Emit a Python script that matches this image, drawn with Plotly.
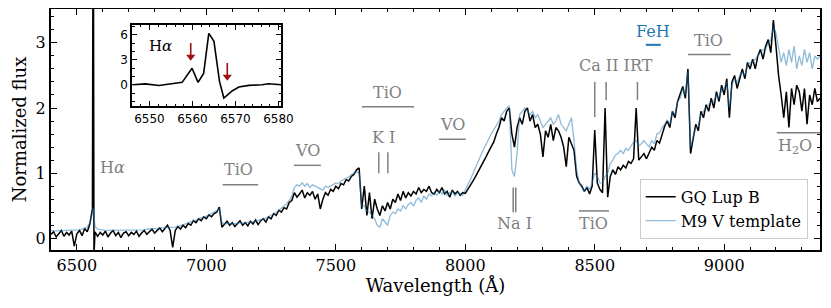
import plotly.graph_objects as go

# ---------------- data ----------------
wave = [
    6400, 6410, 6420, 6430, 6440, 6450, 6460, 6470, 6480, 6490,
    6500, 6510, 6520, 6530, 6540, 6550, 6560, 6563, 6566, 6570, 6580, 6590,
    6600, 6610, 6620, 6630, 6640, 6650, 6660, 6670, 6680, 6690,
    6700, 6710, 6720, 6730, 6740, 6750, 6760, 6770, 6780, 6790,
    6800, 6810, 6820, 6830, 6840, 6850, 6860, 6870, 6880, 6890,
    6900, 6910, 6920, 6930, 6940, 6950, 6960, 6970, 6980, 6990,
    7000, 7010, 7020, 7030, 7040, 7050, 7060, 7070, 7080, 7090,
    7100, 7110, 7120, 7130, 7140, 7150, 7160, 7170, 7180, 7190,
    7200, 7210, 7220, 7230, 7240, 7250, 7260, 7270, 7280, 7290,
    7300, 7310, 7320, 7330, 7340, 7350, 7360, 7370, 7380, 7390,
    7400, 7410, 7420, 7430, 7440, 7450, 7460, 7470, 7480, 7490,
    7500, 7510, 7520, 7530, 7540, 7550, 7560, 7570, 7580, 7590,
    7600, 7610, 7620, 7630, 7640, 7650, 7660, 7670, 7680, 7690,
    7700, 7710, 7720, 7730, 7740, 7750, 7760, 7770, 7780, 7790,
    7800, 7810, 7820, 7830, 7840, 7850, 7860, 7870, 7880, 7890,
    7900, 7910, 7920, 7930, 7940, 7950, 7960, 7970, 7980, 7990,
    8000, 8010, 8020, 8030, 8040, 8050, 8060, 8070, 8080, 8090,
    8100, 8110, 8120, 8130, 8140, 8150, 8160, 8170, 8180, 8190,
    8200, 8210, 8220, 8230, 8240, 8250, 8260, 8270, 8280, 8290,
    8300, 8310, 8320, 8330, 8340, 8350, 8360, 8370, 8380, 8390,
    8400, 8410, 8420, 8430, 8440, 8450, 8460, 8470, 8480, 8490,
    8500, 8510, 8520, 8530, 8540, 8550, 8560, 8570, 8580, 8590,
    8600, 8610, 8620, 8630, 8640, 8650, 8660, 8670, 8680, 8690,
    8700, 8710, 8720, 8730, 8740, 8750, 8760, 8770, 8780, 8790,
    8800, 8810, 8820, 8830, 8840, 8850, 8860, 8870, 8880, 8890,
    8900, 8910, 8920, 8930, 8940, 8950, 8960, 8970, 8980, 8990,
    9000, 9010, 9020, 9030, 9040, 9050, 9060, 9070, 9080, 9090,
    9100, 9110, 9120, 9130, 9140, 9150, 9160, 9170, 9180, 9190,
    9200, 9210, 9220, 9230, 9240, 9250, 9260, 9270, 9280, 9290,
    9300, 9310, 9320, 9330, 9340, 9350, 9360, 9370,
]

flux_gqlupb = [
    0.06, 0.10, 0.02, 0.08, 0.12, 0.03, 0.09, 0.05, 0.11, -0.12,
    0.07, 0.12, 0.04, 0.15, 0.10, 0.22, 0.45, 6.2, -0.25, 0.10, 0.03, 0.09,
    0.05, 0.11, 0.02, 0.08, 0.12, 0.04, 0.09, 0.01, 0.08, 0.10,
    0.04, 0.09, 0.06, 0.11, 0.03, 0.08, 0.12, 0.06, 0.10, 0.14,
    0.08, 0.12, 0.16, 0.10, 0.15, 0.20, 0.12, -0.14, 0.12, 0.18,
    0.14, 0.20, 0.16, 0.23, 0.20, 0.27, 0.24, 0.30, 0.27, 0.33,
    0.30, 0.36, 0.33, 0.38, 0.40, 0.48, 0.17, 0.22, 0.26, 0.20,
    0.24, 0.18, 0.22, 0.27, 0.20, 0.24, 0.19, 0.26, 0.22, 0.28,
    0.21, 0.27, 0.30, 0.25, 0.33, 0.30, 0.38, 0.35, 0.43, 0.40,
    0.47, 0.45, 0.55, 0.58, 0.70, 0.63, 0.68, 0.74, 0.62, 0.70,
    0.66, 0.72, 0.60, 0.68, 0.45, 0.60, 0.70, 0.66, 0.75, 0.72,
    0.80, 0.76, 0.84, 0.82, 0.90, 0.88, 0.95, 0.98, 1.05, 1.08,
    0.45, 0.80, 0.35, 0.70, 0.30, 0.60, 0.45, 0.35, 0.50, 0.42,
    0.55, 0.45, 0.60, 0.55, 0.68, 0.58, 0.72, 0.62, 0.70, 0.65,
    0.72, 0.68, 0.78, 0.70, 0.75, 0.72, 0.80, 0.70, 0.68, 0.75,
    0.70, 0.78, 0.68, 0.72, 0.63, 0.74, 0.68, 0.72, 0.66, 0.70,
    0.69, 0.75, 0.80, 0.88, 0.95, 1.02, 1.10, 1.18, 1.25, 1.33,
    1.40, 1.48, 1.60, 1.70, 1.85, 1.80, 1.95, 2.00, 1.60, 1.40,
    1.70, 1.85, 1.75, 1.95, 2.00, 1.80, 1.90, 1.70, 1.75, 1.60,
    1.25, 1.65, 1.55, 1.75, 1.50, 1.70, 1.65, 1.55, 1.40, 1.10,
    1.55, 1.45, 1.35, 0.95, 0.85, 0.80, 0.72, 0.78, 0.68, 0.80,
    1.66, 0.85, 0.75, 0.70, 2.00, 0.63, 0.95, 1.05, 0.98, 1.10,
    1.05, 1.12, 1.08, 1.18, 1.15, 1.22, 2.00, 1.20, 1.25, 1.30,
    1.22, 1.30, 1.40, 1.35, 1.50, 1.46, 1.60, 1.72, 1.80, 1.70,
    1.95, 1.85, 2.10, 2.20, 2.33, 2.15, 2.60, 1.30, 1.50, 1.75,
    1.65, 1.95, 1.85, 2.05, 1.95, 2.15, 2.00, 2.25, 2.10, 2.35,
    2.20, 2.45, 1.85, 2.40, 2.50, 2.30, 2.45, 2.60, 2.45, 2.70,
    2.60, 2.75, 2.60, 2.80, 2.90, 2.75, 2.95, 3.05, 2.85, 3.35,
    2.95, 2.50, 2.20, 1.85, 2.25, 1.70, 2.30, 2.05, 2.35, 2.25,
    1.95, 2.30, 1.75, 2.20, 2.05, 2.30, 2.10, 2.15,
]

flux_m9v = [
    0.12, 0.11, 0.11, 0.12, 0.11, 0.12, 0.12, 0.12, 0.12, 0.12,
    0.13, 0.13, 0.14, 0.15, 0.17, 0.24, 0.38, 0.47, 0.30, 0.18, 0.14, 0.13,
    0.12, 0.12, 0.12, 0.12, 0.12, 0.12, 0.12, 0.12, 0.12, 0.12,
    0.12, 0.12, 0.12, 0.12, 0.13, 0.13, 0.13, 0.14, 0.14, 0.15,
    0.15, 0.15, 0.16, 0.16, 0.16, 0.17, 0.17, 0.17, 0.17, 0.18,
    0.20, 0.21, 0.22, 0.24, 0.25, 0.27, 0.28, 0.30, 0.31, 0.33,
    0.34, 0.36, 0.38, 0.39, 0.42, 0.45, 0.24, 0.22, 0.23, 0.22,
    0.23, 0.22, 0.23, 0.24, 0.23, 0.24, 0.24, 0.25, 0.25, 0.26,
    0.27, 0.28, 0.30, 0.31, 0.33, 0.35, 0.38, 0.40, 0.43, 0.46,
    0.50, 0.53, 0.58, 0.65, 0.78, 0.82, 0.80, 0.85, 0.80, 0.84,
    0.78, 0.82, 0.80, 0.78, 0.76, 0.74, 0.80, 0.78, 0.80, 0.82,
    0.85, 0.84, 0.88, 0.90, 0.92, 0.94, 0.98, 1.00, 1.02, 1.00,
    0.50, 0.50, 0.42, 0.40, 0.35, 0.30, 0.20, 0.17, 0.30, 0.25,
    0.20, 0.35, 0.40, 0.38, 0.45, 0.42, 0.50, 0.45, 0.52, 0.55,
    0.50, 0.58, 0.62, 0.55, 0.65, 0.60, 0.68, 0.65, 0.70, 0.66,
    0.72, 0.68, 0.74, 0.66, 0.70, 0.72, 0.65, 0.70, 0.68, 0.66,
    0.75, 0.82, 0.90, 1.00, 1.10, 1.18, 1.27, 1.36, 1.45, 1.52,
    1.60, 1.66, 1.72, 1.80, 1.90, 1.95, 2.00, 2.03, 1.05, 0.95,
    1.30, 1.90, 1.95, 2.00, 1.95, 1.90, 1.95, 1.85, 1.90, 1.80,
    1.70, 1.75, 1.80, 1.85, 1.75, 1.80, 1.90, 1.75, 1.70, 1.65,
    1.75, 1.85, 1.50, 1.05, 0.85, 0.78, 0.72, 0.80, 0.75, 0.85,
    1.00, 0.95, 0.85, 0.85, 0.95, 1.00, 1.15, 1.20, 1.28, 1.30,
    1.35, 1.30, 1.38, 1.35, 1.42, 1.48, 1.50, 1.42, 1.45, 1.50,
    1.45, 1.40, 1.50, 1.45, 1.60, 1.62, 1.70, 1.75, 1.82, 1.75,
    1.95, 1.90, 2.10, 2.15, 2.30, 2.20, 2.55, 1.40, 1.55, 1.70,
    1.72, 1.90, 1.95, 2.00, 2.05, 2.10, 2.10, 2.20, 2.15, 2.30,
    2.30, 2.40, 2.00, 2.35, 2.45, 2.40, 2.50, 2.55, 2.50, 2.65,
    2.70, 2.70, 2.75, 2.80, 2.85, 2.90, 2.90, 3.00, 3.05, 3.25,
    3.15, 2.90, 2.70, 2.85, 2.65, 2.90, 2.70, 2.95, 2.60, 2.80,
    2.65, 2.90, 2.70, 2.85, 2.60, 2.80, 2.75, 2.80,
]

# H-alpha zoom (inset)
ha_wave = [6546.1, 6549.0, 6552.2, 6555.3, 6557.6, 6559.9, 6561.3, 6562.6,
           6563.8, 6565.0, 6566.3, 6567.3, 6569.3, 6570.8, 6573.1, 6576.2,
           6577.7, 6580.7]
ha_flux = [0.0, 0.1, -0.1, 0.12, 0.28, 1.97, 0.28, 1.36,
           6.16, 5.2, 0.36, -1.6, -0.72, -0.28, -0.08, 0.0,
           0.12, 0.0]
arrow_wave = [6559.6, 6568.1]
arrow_top = [5.0, 2.6]
arrow_tip = [2.8, 0.4]

# Feature bands: label, x-centre of label, label y, bar start, bar end, bar y
band_labels = ["TiO", "VO", "TiO", "VO", "TiO", "TiO"]
band_label_x = [7126, 7392, 7701, 7952, 8497, 8940]
band_label_y = [1.05, 1.35, 2.24, 1.74, 0.22, 3.03]
band_start = [7063, 7338, 7601, 7898, 8439, 8860]
band_end = [7200, 7442, 7802, 8002, 8555, 9025]
band_bar_y = [0.82, 1.12, 2.02, 1.52, 0.42, 2.82]

# Atomic lines (vertical ticks): x, y bottom, y top
kI_lines = [7666, 7701]
naI_lines = [8185, 8195]
caII_lines = [8500, 8544, 8665]
caII_bottom = [1.86, 2.12, 2.12]

GRAY = "#808080"
SERIF = "DejaVu Serif"
ARROW = "#9b1111"

fig = go.Figure()
fig.add_trace(go.Scatter(x=wave, y=flux_gqlupb, mode="lines", name="GQ Lup B",
                         line=dict(color="black", width=1.5)))
fig.add_trace(go.Scatter(x=wave, y=flux_m9v, mode="lines", name="M9 V template",
                         line=dict(color="rgba(31,119,180,0.5)", width=1.3)))
fig.add_trace(go.Scatter(x=ha_wave, y=ha_flux, mode="lines", showlegend=False,
                         line=dict(color="black", width=1.6), xaxis="x2", yaxis="y2"))
# inset arrows: shaft + head
for aw, at, ab in zip(arrow_wave, arrow_top, arrow_tip):
    fig.add_trace(go.Scatter(x=[aw, aw], y=[at, ab + 0.6], mode="lines",
                             showlegend=False, hoverinfo="skip",
                             line=dict(color=ARROW, width=1.6),
                             xaxis="x2", yaxis="y2"))
fig.add_trace(go.Scatter(x=arrow_wave, y=[t + 0.55 for t in arrow_tip], mode="markers",
                         showlegend=False, hoverinfo="skip",
                         marker=dict(symbol="triangle-down", size=8, color=ARROW,
                                     line=dict(width=0)),
                         xaxis="x2", yaxis="y2"))

shapes = []
annotations = []

def gray_text(x, y, text, color=GRAY):
    annotations.append(dict(x=x, y=y, xref="x", yref="y", text=text, showarrow=False,
                            font=dict(family=SERIF, size=16, color=color),
                            xanchor="center", yanchor="middle"))

def seg(x0, y0, x1, y1, color=GRAY, width=1.5):
    shapes.append(dict(type="line", xref="x", yref="y", x0=x0, y0=y0, x1=x1, y1=y1,
                       line=dict(color=color, width=width)))

for lab, lx, ly, b0, b1, by in zip(band_labels, band_label_x, band_label_y,
                                    band_start, band_end, band_bar_y):
    gray_text(lx, ly, lab)
    seg(b0, by, b1, by)

gray_text(6637, 1.09, "H<i>α</i>")
gray_text(7686, 1.55, "K I")
for xl in kI_lines:
    seg(xl, 1.0, xl, 1.32)
gray_text(8191, 0.22, "Na I")
for xl in naI_lines:
    seg(xl, 0.40, xl, 0.78)
gray_text(8581, 2.65, "Ca II IRT")
for xl, yb in zip(caII_lines, caII_bottom):
    seg(xl, yb, xl, 2.40)
gray_text(8724, 3.18, "FeH", color="#1f77b4")
seg(8697, 2.97, 8755, 2.97, color="#1f77b4", width=2)
gray_text(9272, 1.41, "H<sub>2</sub>O")
seg(9203, 1.62, 9370, 1.62)

# inset label
annotations.append(dict(x=6549.5, y=4.6, xref="x2", yref="y2", text="H<i>α</i>",
                        showarrow=False, xanchor="left", yanchor="middle",
                        font=dict(family=SERIF, size=15, color="black")))

axis_common = dict(showline=True, linecolor="black", linewidth=2, mirror="allticks",
                   ticks="inside", tickcolor="black", showgrid=False, zeroline=False,
                   automargin=False)

# page body has an 8px margin; figure is sized/offset so the plot lands on the reference
fig.update_layout(
    width=823, height=300,
    margin=dict(l=43, r=11, t=1, b=58),
    plot_bgcolor="white", paper_bgcolor="white",
    font=dict(family=SERIF, size=16, color="black"),
    xaxis=dict(range=[6400, 9370], tickvals=[6500, 7000, 7500, 8000, 8500, 9000],
               ticklen=6, tickwidth=1.3,
               minor=dict(ticks="inside", dtick=100, tick0=6400, ticklen=3,
                          tickcolor="black", showgrid=False),
               title=dict(text="Wavelength (Å)", font=dict(size=18), standoff=5),
               tickfont=dict(family=SERIF, size=16), **axis_common),
    yaxis=dict(range=[-0.18, 3.52], tickvals=[0, 1, 2, 3], ticklen=6, tickwidth=1.3,
               minor=dict(ticks="inside", dtick=0.2, tick0=0, ticklen=3,
                          tickcolor="black", showgrid=False),
               title=dict(text="Normalized flux", font=dict(size=18), standoff=4),
               tickfont=dict(family=SERIF, size=16), **axis_common),
    xaxis2=dict(domain=[0.1057, 0.2991], anchor="y2", range=[6546, 6580.6],
                tickvals=[6550, 6560, 6570, 6580], ticklen=5, tickwidth=1.2,
                minor=dict(ticks="inside", dtick=2, tick0=6546, ticklen=2.5,
                           tickcolor="black", showgrid=False),
                tickfont=dict(family="DejaVu Sans", size=12), **axis_common),
    yaxis2=dict(domain=[0.596, 0.935], anchor="x2", range=[-2.6, 7.2],
                tickvals=[0, 3, 6], ticklen=5, tickwidth=1.2,
                minor=dict(ticks="inside", dtick=1, tick0=0, ticklen=2.5,
                           tickcolor="black", showgrid=False),
                tickfont=dict(family="DejaVu Sans", size=12), **axis_common),
    legend=dict(x=0.984, y=0.046, xanchor="right", yanchor="bottom",
                bgcolor="white", bordercolor="#cccccc", borderwidth=1,
                font=dict(family=SERIF, size=16), tracegroupgap=0),
    shapes=shapes, annotations=annotations,
)

fig.write_html("out.html")
